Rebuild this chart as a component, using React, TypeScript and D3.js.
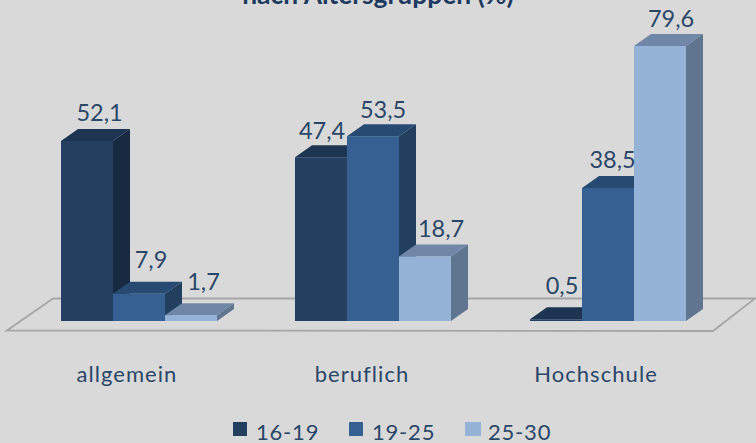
import React from "react";
import * as d3 from "d3";

const categories = ["allgemein", "beruflich", "Hochschule"];
const seriesNames = ["16-19", "19-25", "25-30"];
const values1619 = [52.1, 47.4, 0.5];
const values1925 = [7.9, 53.5, 38.5];
const values2530 = [1.7, 18.7, 79.6];
const seriesValues = [values1619, values1925, values2530];
const titleText = "nach Altersgruppen (%)";

// label placement relative to each bar: [dx, dy] per series, per category
const labelDx = [[12.5, 1, 6], [12, 10, 4.5], [12.5, 16, 11]];
const labelDy = [[20, 18, 25], [26, 18, 20], [25, 19, 19]];

const faces = [
  { front: "#243f60", side: "#182a41", top: "#1d3452" },
  { front: "#376092", side: "#223f60", top: "#274a73" },
  { front: "#95b3d7", side: "#5f7590", top: "#7087a7" },
];
const textColor = "#2a4668";
const font = "Lato, 'Open Sans', sans-serif";

const W = 756, H = 443;
const baseY = 321;
const depthX = 17, depthY = 12;
const barW = 52;

const y = d3.scaleLinear().domain([0, 79.6]).range([baseY, 46]);
const xGroup = d3.scaleOrdinal<string, number>().domain(categories).range([61, 295, 530]);
const labelX = d3.scaleOrdinal<string, number>().domain(categories).range([127, 362, 596]);
const poly = d3.line();

const legendX = [233, 349, 465];
const legendW = [14, 14, 16];

export default function App() {
  return (
    <svg width={W} height={H} viewBox={`0 0 ${W} ${H}`}
      style={{ position: "fixed", left: 0, top: 0, display: "block", background: "#d9d9d9" }}>
      <rect width={W} height={H} fill="#d9d9d9" />
      <text x={378} y={3.5} textAnchor="middle" fontFamily={font} fontWeight={700} fontSize={26.4} fill="#1f3a5f">{titleText}</text>

      <path d={poly([[7, 330.5], [53, 298.5], [755, 298.5], [713, 331]])! + "Z"} fill="none" stroke="#a6a6a6" strokeWidth={1.8} />

      {categories.map((c, ci) => (
        <g key={c}>
          {seriesValues.map((vals, si) => {
            const x0 = xGroup(c) + si * barW;
            const x1 = x0 + barW;
            const yt = y(vals[ci]);
            const f = faces[si];
            return (
              <g key={si}>
                <path d={poly([[x1, yt], [x1 + depthX, yt - depthY], [x1 + depthX, baseY - depthY], [x1, baseY]])! + "Z"} fill={f.side} />
                <path d={poly([[x0, yt], [x0 + depthX, yt - depthY], [x1 + depthX, yt - depthY], [x1, yt]])! + "Z"} fill={f.top} />
                <rect x={x0} y={yt} width={barW} height={baseY - yt} fill={f.front} />
              </g>
            );
          })}
        </g>
      ))}

      {categories.map((c, ci) =>
        seriesValues.map((vals, si) => {
          const x0 = xGroup(c) + si * barW;
          const txt = vals[ci].toFixed(1).replace(".", ",");
          return (
            <text key={c + si} x={x0 + barW / 2 + labelDx[si][ci]} y={y(vals[ci]) - labelDy[si][ci]} textAnchor="middle"
              fontFamily={font} fontSize={23.5} fill={textColor}>{txt}</text>
          );
        })
      )}

      {categories.map((c) => (
        <text key={c} x={labelX(c)} y={382} textAnchor="middle" fontFamily={font} fontSize={22} letterSpacing={1.05} fill={textColor}>{c}</text>
      ))}

      {seriesNames.map((s, i) => (
        <g key={s}>
          <rect x={legendX[i]} y={422} width={legendW[i]} height={14} fill={faces[i].front} />
          <text x={legendX[i] + 23} y={440} fontFamily={font} fontSize={22} letterSpacing={0.8} fill={textColor}>{s}</text>
        </g>
      ))}
    </svg>
  );
}
